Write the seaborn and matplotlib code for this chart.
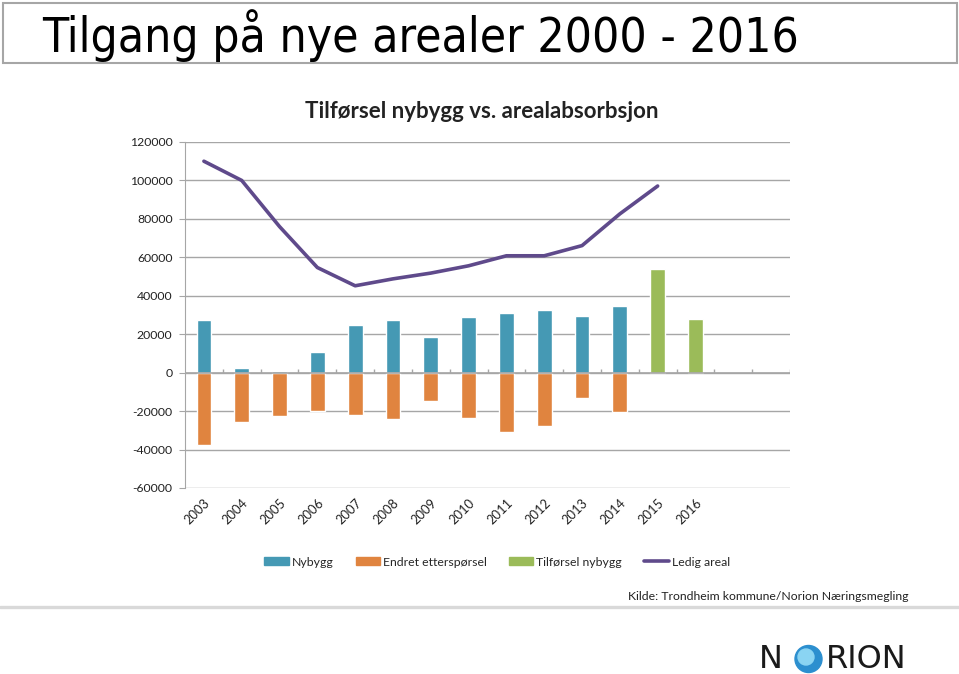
import matplotlib
matplotlib.use("Agg")
import matplotlib.pyplot as plt
import numpy as np
import pandas as pd
import seaborn as sns
from matplotlib.patches import Patch, Rectangle, Circle
from matplotlib.lines import Line2D
from matplotlib.ticker import FuncFormatter

# data
years = ["2003", "2004", "2005", "2006", "2007", "2008", "2009", "2010",
         "2011", "2012", "2013", "2014", "2015", "2016"]
blank_slots = ["", " "]  # two empty categories at the right end of the axis
nybygg = [27500, 2400, 900, 10900, 24800, 27200, 18700, 29200,
          31000, 32700, 29600, 34800, None, None]
endret = [-37800, -25800, -22700, -20100, -21800, -24100, -14900, -23700,
          -31000, -27500, -13300, -20600, None, None]
tilforsel = [None] * 12 + [53900, 27900]
ledig = [110000, 100000, 76000, 54700, 45200, 48800, 51800, 55600,
         60800, 60800, 66100, 82600, 97100]

c_nybygg = "#4599B4"
c_endret = "#E0843F"
c_tilf = "#9BBB59"
c_ledig = "#5F4A8B"
grid_c = "#A6A6A6"

sns.set_style("white")
plt.rcParams["font.family"] = ["Lato", "DejaVu Sans"]
plt.rcParams["axes.unicode_minus"] = False

cats = years + blank_slots
df = pd.DataFrame({"year": years, "Nybygg": nybygg,
                   "Endret": endret, "Tilforsel": tilforsel})

fig = plt.figure(figsize=(9.59, 6.74), dpi=100)
ax = fig.add_axes([185 / 959, 1 - 488 / 674, 605 / 959, 346 / 674])

bw = 0.39
sns.barplot(data=df, x="year", y="Nybygg", order=cats, color=c_nybygg,
            width=bw, saturation=1, ax=ax)
sns.barplot(data=df, x="year", y="Endret", order=cats, color=c_endret,
            width=bw, saturation=1, ax=ax)
sns.barplot(data=df, x="year", y="Tilforsel", order=cats, color=c_tilf,
            width=bw, saturation=1, ax=ax)
sns.lineplot(x=np.arange(len(ledig)), y=ledig, color=c_ledig, lw=2.6, ax=ax)

ax.set_xlim(-0.5, len(cats) - 0.5)
ax.set_ylim(-60000, 120000)
ax.set_yticks(np.arange(-60000, 120001, 20000))
ax.yaxis.set_major_formatter(FuncFormatter(lambda v, p: f"{int(v)}"))
ax.yaxis.grid(True, color=grid_c, lw=1)
ax.set_axisbelow(True)
for s in ["top", "right", "bottom"]:
    ax.spines[s].set_visible(False)
ax.spines["left"].set_color(grid_c)
ax.axhline(0, color=grid_c, lw=1.2, zorder=1)
# category ticks on the zero line
ax.vlines(np.arange(0.5, len(cats), 1), 0, 2000, color=grid_c, lw=1, zorder=1)
ax.set_xlabel("")
ax.set_ylabel("")
ax.tick_params(axis="y", left=True, length=4, color=grid_c, labelsize=8.8,
               labelcolor="#222222", pad=5)
ax.tick_params(axis="x", bottom=False, labelsize=9.3, labelcolor="#222222", pad=3)
ax.set_xticks(range(len(cats)))
ax.set_xticklabels(cats, rotation=45, ha="right", rotation_mode="anchor")

# titles
fig.add_artist(Rectangle((3 / 959, 1 - 63 / 674), 954 / 959, 60 / 674,
                         transform=fig.transFigure, fill=False,
                         edgecolor="#A6A6A6", lw=1.5))
fig.text(42 / 959, 1 - 52 / 674, "Tilgang på nye arealer 2000 - 2016",
         fontsize=34.4, va="baseline", ha="left", fontstretch="condensed",
         family="DejaVu Sans", color="black")
fig.text(482 / 959, 1 - 111 / 674, "Tilførsel nybygg vs. arealabsorbsjon",
         fontsize=16, fontweight="bold", ha="center", va="center",
         color="#222222")

# legend
handles = [Patch(color=c_nybygg), Patch(color=c_endret), Patch(color=c_tilf),
           Line2D([], [], color=c_ledig, lw=2.6)]
labels = ["Nybygg", "Endret etterspørsel", "Tilførsel nybygg", "Ledig areal"]
fig.legend(handles, labels, loc="center", bbox_to_anchor=(497 / 959, 1 - 562 / 674),
           ncol=4, frameon=False, fontsize=8.8, handlelength=2.0,
           handleheight=0.6, handletextpad=0.25, columnspacing=1.8)

# source and footer
fig.text(908 / 959, 1 - 596 / 674, "Kilde: Trondheim kommune/Norion Næringsmegling",
         fontsize=8.8, ha="right", va="center", color="#222222")
fig.add_artist(Line2D([0, 1], [1 - 606.5 / 674] * 2, transform=fig.transFigure,
                      color="#D9D9D9", lw=2.4))

# logo
fig.text(759 / 959, 1 - 659 / 674, "N", fontsize=23, ha="left", va="center",
         family="DejaVu Sans", color="#1a1a1a")
fig.add_artist(Circle((8.085, 0.15), 0.135, transform=fig.dpi_scale_trans,
                      color="#2C8FCF"))
fig.add_artist(Circle((8.06, 0.17), 0.08, transform=fig.dpi_scale_trans,
                      color="#8AD4F2"))
fig.text(826 / 959, 1 - 659 / 674, "RION", fontsize=23, ha="left", va="center",
         family="DejaVu Sans", color="#1a1a1a")

fig.savefig("out.png", dpi=100)
